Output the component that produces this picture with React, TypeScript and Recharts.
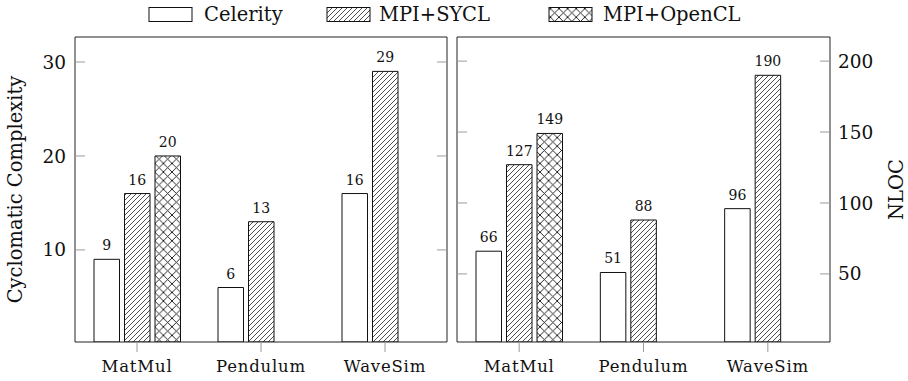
import React from "react";
import { BarChart, Bar, XAxis, YAxis, LabelList } from "recharts";

const categories = ["MatMul", "Pendulum", "WaveSim"];

// cyclomatic complexity (left panel)
const ccCelerity = [9, 6, 16];
const ccSycl = [16, 13, 29];
const ccOpencl = [20, null, null];

// NLOC (right panel)
const nlocCelerity = [66, 51, 96];
const nlocSycl = [127, 88, 190];
const nlocOpencl = [149, null, null];

const ccTicks = [10, 20, 30];
const nlocTicks = [50, 100, 150, 200];

const FONT = "DejaVu Serif";
const TICK_GRAY = "#9a9a9a";

const ccData = categories.map((name, i) => ({
  name,
  celerity: ccCelerity[i],
  sycl: ccSycl[i],
  opencl: ccOpencl[i],
}));

const nlocData = categories.map((name, i) => ({
  name,
  celerity: nlocCelerity[i],
  sycl: nlocSycl[i],
  opencl: nlocOpencl[i],
}));

const fmt = (v: unknown) => (v == null ? "" : String(v));
const NoLabel = () => <g />;

function Patterns() {
  return (
    <defs>
      <pattern id="nelines" patternUnits="userSpaceOnUse" width="5" height="5">
        <path d="M-1,1 L1,-1 M0,5 L5,0 M4,6 L6,4" stroke="#222" strokeWidth="0.8" />
      </pattern>
      <pattern id="crosshatch" patternUnits="userSpaceOnUse" width="8.6" height="8.6">
        <path d="M0,0 L8.6,8.6 M0,8.6 L8.6,0" stroke="#111" strokeWidth="0.9" />
      </pattern>
    </defs>
  );
}

function yTitle(text: string, dx: number) {
  // eslint-disable-next-line @typescript-eslint/no-explicit-any
  return (props: any) => {
    const vb = props.viewBox || {};
    const cx = vb.x + dx;
    const cy = vb.y + vb.height / 2;
    return (
      <text
        x={cx}
        y={cy}
        transform={`rotate(-90 ${cx} ${cy})`}
        textAnchor="middle"
        dominantBaseline="central"
        fontFamily={FONT}
        fontSize={19.5}
        fill="#111"
      >
        {text}
      </text>
    );
  };
}

function Panel({
  data,
  domain,
  ticks,
  side,
  title,
}: {
  data: typeof ccData;
  domain: [number, number];
  ticks: number[];
  side: "left" | "right";
  title: string;
}) {
  const margin =
    side === "left"
      ? { top: 36, right: 7, bottom: 0, left: 25 }
      : { top: 36, right: 28, bottom: 0, left: 3 };
  const other = side === "left" ? "right" : "left";
  return (
    <BarChart
      width={454}
      height={381}
      data={data}
      margin={margin}
      barSize={25.5}
      barGap={5}
    >
      <XAxis
        dataKey="name"
        height={39}
        axisLine={{ stroke: "#222", strokeWidth: 1 }}
        tickLine={{ stroke: TICK_GRAY }}
        tickSize={10}
        tickMargin={8}
        tick={{ fontFamily: FONT, fontSize: 16.5, fill: "#111", letterSpacing: 0.8 }}
      />
      <XAxis
        xAxisId="top"
        dataKey="name"
        orientation="top"
        height={1}
        tick={false}
        tickLine={false}
        axisLine={{ stroke: "#222", strokeWidth: 1 }}
      />
      <YAxis
        yAxisId="main"
        orientation={side}
        width={50}
        domain={domain}
        allowDataOverflow
        ticks={ticks}
        tickLine={false}
        tickSize={0}
        tickMargin={side === "left" ? 9 : 8}
        axisLine={{ stroke: "#222", strokeWidth: 1 }}
        tick={{ fontFamily: FONT, fontSize: 18.5, fill: "#111" }}
        label={yTitle(title, side === "left" ? -10 : 66)}
      />
      <YAxis
        yAxisId="mirrorSame"
        orientation={side}
        mirror
        domain={domain}
        allowDataOverflow
        ticks={ticks}
        tick={NoLabel}
        tickSize={10}
        tickLine={{ stroke: TICK_GRAY }}
        axisLine={false}
      />
      <YAxis
        yAxisId="mirrorOther"
        orientation={other}
        mirror
        domain={domain}
        allowDataOverflow
        ticks={ticks}
        tick={NoLabel}
        tickSize={10}
        tickLine={{ stroke: TICK_GRAY }}
        axisLine={{ stroke: "#222", strokeWidth: 1 }}
      />
      <Bar yAxisId="main" dataKey="celerity" fill="#fff" stroke="#111" strokeWidth={1} isAnimationActive={false}>
        <LabelList dataKey="celerity" position="top" offset={9} formatter={fmt} style={{ fontFamily: FONT, fontSize: 14, fill: "#111" }} />
      </Bar>
      <Bar yAxisId="main" dataKey="sycl" fill="url(#nelines)" stroke="#111" strokeWidth={1} isAnimationActive={false}>
        <LabelList dataKey="sycl" position="top" offset={9} formatter={fmt} style={{ fontFamily: FONT, fontSize: 14, fill: "#111" }} />
      </Bar>
      <Bar yAxisId="main" dataKey="opencl" fill="url(#crosshatch)" stroke="#111" strokeWidth={1} isAnimationActive={false}>
        <LabelList dataKey="opencl" position="top" offset={9} formatter={fmt} style={{ fontFamily: FONT, fontSize: 14, fill: "#111" }} />
      </Bar>
    </BarChart>
  );
}

function LegendBar() {
  const items = [
    { label: "Celerity", fill: "#fff", box: 149, text: 204 },
    { label: "MPI+SYCL", fill: "url(#nelines)", box: 327, text: 379 },
    { label: "MPI+OpenCL", fill: "url(#crosshatch)", box: 549, text: 603 },
  ];
  return (
    <svg width={908} height={30} style={{ position: "absolute", left: 0, top: 0 }}>
      <Patterns />
      {items.map((it) => (
        <g key={it.label}>
          <rect x={it.box} y={7.5} width={43} height={14} fill={it.fill} stroke="#111" strokeWidth={1} />
          <text x={it.text} y={20.5} fontFamily={FONT} fontSize={19.5} fill="#111">
            {it.label}
          </text>
        </g>
      ))}
    </svg>
  );
}

export default function App() {
  return (
    <div style={{ position: "absolute", left: 0, top: 0, width: 908, height: 381, background: "#fff" }}>
      <LegendBar />
      <div style={{ position: "absolute", left: 0, top: 0 }}>
        <Panel data={ccData} domain={[0.2, 32.66]} ticks={ccTicks} side="left" title="Cyclomatic Complexity" />
      </div>
      <div style={{ position: "absolute", left: 454, top: 0 }}>
        <Panel data={nlocData} domain={[2, 217]} ticks={nlocTicks} side="right" title="NLOC" />
      </div>
    </div>
  );
}
